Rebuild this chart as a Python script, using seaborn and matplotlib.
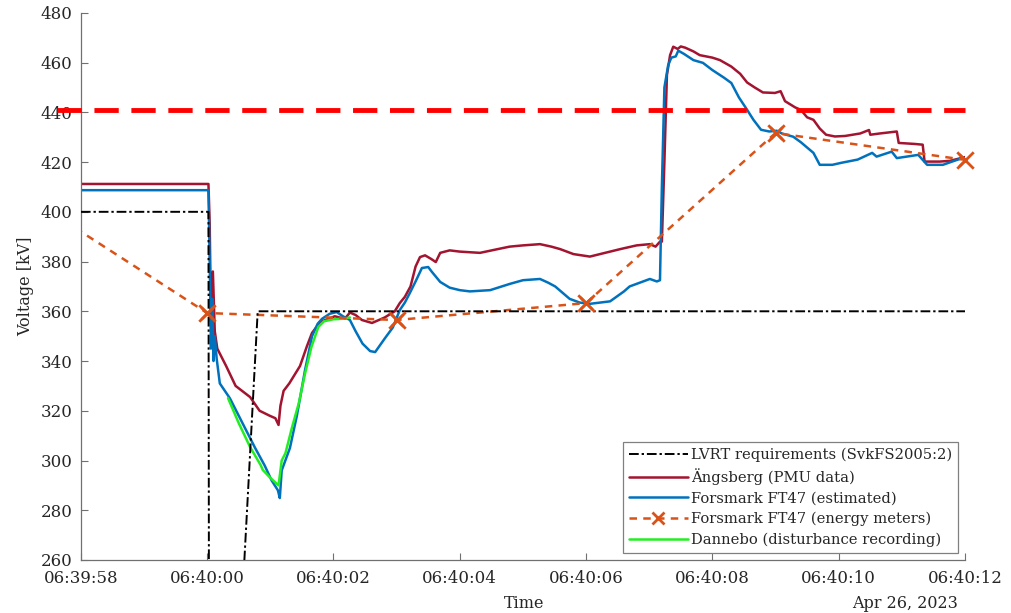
import matplotlib
matplotlib.use("Agg")
import matplotlib.pyplot as plt
import seaborn as sns

# time axis: seconds after 06:39:58 (Apr 26, 2023)
tick_sec = [0, 2, 4, 6, 8, 10, 12, 14]
tick_labels = ["06:39:58", "06:40:00", "06:40:02", "06:40:04",
               "06:40:06", "06:40:08", "06:40:10", "06:40:12"]
y_ticks = list(range(260, 481, 20))

limit_kv = 441  # red dashed limit

lvrt_t = [0, 2.02, 2.04, 2.8, 14]
lvrt_kv = [400, 400, 0, 360, 360]

angs_t = [0, 2.02, 2.04, 2.06, 2.09, 2.12, 2.16, 2.3, 2.45, 2.68, 2.83, 2.99,
          3.08, 3.13, 3.16, 3.21, 3.3, 3.47, 3.58, 3.66, 3.79, 3.92, 4.02, 4.18,
          4.26, 4.35, 4.45, 4.61, 4.81, 4.97, 5.05, 5.13, 5.22, 5.3, 5.37, 5.45,
          5.55, 5.62, 5.69, 5.84, 6.0, 6.32, 6.6, 6.79, 7.0, 7.27, 7.45, 7.59,
          7.8, 8.06, 8.3, 8.54, 8.8, 9.01, 9.1, 9.17, 9.2, 9.24, 9.28, 9.33,
          9.38, 9.45, 9.5, 9.57, 9.7, 9.8, 10.0, 10.12, 10.3, 10.44, 10.55,
          10.67, 10.8, 10.99, 11.08, 11.15, 11.31, 11.4, 11.5, 11.6, 11.7, 11.8,
          11.94, 12.1, 12.34, 12.48, 12.5, 12.65, 12.92, 12.95, 13.2, 13.33,
          13.36, 13.6, 13.76, 14.0]
angs_kv = [411.2, 411.2, 395, 356, 376, 352, 345, 338, 330, 325.5, 320, 318,
           317, 314.3, 322, 328, 331, 338, 346, 351.3, 355.7, 357, 358, 357,
           359.5, 358.5, 356.5, 355.3, 357.5, 360, 363.3, 365.8, 370, 378, 381.8,
           382.5, 381, 379.8, 383.5, 384.5, 384, 383.5, 385, 386, 386.5, 387,
           386, 385, 383, 382, 383.5, 385, 386.5, 387, 386, 388, 388, 420, 455,
           463, 466.4, 465.5, 466.5, 466, 464.5, 463, 462, 461, 458.4, 455.5,
           452, 450, 448, 447.8, 448.5, 444.5, 442, 441, 438, 437, 433.5, 431,
           430.3, 430.5, 431.5, 432.9, 431, 431.5, 432.3, 427.7, 427.3, 427,
           420.2, 420.2, 420.5, 422]

fors_t = [0, 2.02, 2.04, 2.06, 2.08, 2.1, 2.12, 2.15, 2.2, 2.36, 2.5, 2.6,
          2.76, 2.91, 3.02, 3.12, 3.15, 3.18, 3.31, 3.42, 3.55, 3.66, 3.75,
          3.82, 3.94, 4.05, 4.15, 4.26, 4.35, 4.46, 4.58, 4.66, 4.81, 4.94,
          5.05, 5.13, 5.21, 5.3, 5.4, 5.5, 5.56, 5.69, 5.84, 6.0, 6.16, 6.48,
          6.79, 7.0, 7.27, 7.4, 7.51, 7.74, 7.9, 8.06, 8.38, 8.6, 8.69, 9.01,
          9.12, 9.17, 9.2, 9.24, 9.3, 9.35, 9.42, 9.46, 9.55, 9.7, 9.85, 10.0,
          10.18, 10.3, 10.42, 10.55, 10.65, 10.77, 10.9, 11.02, 11.1, 11.28,
          11.4, 11.6, 11.7, 11.9, 12.04, 12.3, 12.53, 12.6, 12.84, 12.92,
          13.26, 13.4, 13.65, 13.92, 14.0]
fors_kv = [408.7, 408.7, 380, 345, 365, 340, 350, 341, 331, 325, 318, 313,
           305, 298, 292, 288, 284.9, 296, 305, 318, 336.4, 350, 355, 357, 359,
           359.7, 358, 356.5, 352, 347, 344, 343.6, 349, 353.5, 360.5, 363.5,
           367.4, 372, 377.4, 377.8, 375.8, 371.8, 369.5, 368.5, 368, 368.5,
           371, 372.5, 373, 371.5, 370, 365, 363.5, 363, 364, 368, 370, 373,
           372, 372.5, 410, 450, 459, 462, 462.5, 464.8, 463.5, 461, 459.9,
           457, 454, 451.8, 446, 441, 437, 433, 432.3, 432.6, 431.5, 430.2,
           428, 423.7, 418.9, 418.9, 419.7, 421, 423.7, 422.2, 424.2, 421.6,
           422.9, 418.9, 418.9, 421.3, 421.5]

meter_t = [-1, 2, 5, 8, 11, 14]
meter_kv = [408.4, 359.3, 356.5, 363.3, 431.7, 420.9]

dann_t = [2.33, 2.5, 2.68, 2.85, 2.88, 3.0, 3.13, 3.18, 3.24, 3.34, 3.45,
          3.55, 3.65, 3.76, 3.85, 4.0, 4.15, 4.26]
dann_kv = [325.1, 315, 305.4, 298, 296.2, 293, 290, 300, 303, 313, 323, 335,
           345.6, 353.7, 356, 356.8, 357, 357.5]

sns.set_style("ticks")
plt.rcParams['font.family'] = ['DejaVu Serif']
plt.rcParams['xtick.direction'] = 'in'
plt.rcParams['ytick.direction'] = 'in'

fig, ax = plt.subplots(figsize=(10.11, 6.13), dpi=100)
fig.subplots_adjust(left=0.080, right=0.9545, bottom=0.0865, top=0.979)

sns.lineplot(x=lvrt_t, y=lvrt_kv, ax=ax, sort=False, estimator=None,
             color='black', lw=1.4, linestyle=(0, (5, 1.5, 1.2, 1.5)),
             label='LVRT requirements (SvkFS2005:2)', zorder=4)
sns.lineplot(x=angs_t, y=angs_kv, ax=ax, sort=False, estimator=None,
             color='#A2142F', lw=1.8, label='Ängsberg (PMU data)')
sns.lineplot(x=fors_t, y=fors_kv, ax=ax, sort=False, estimator=None,
             color='#0072BD', lw=1.8, label='Forsmark FT47 (estimated)')
sns.lineplot(x=meter_t, y=meter_kv, ax=ax, sort=False, estimator=None,
             color='#D95319', lw=1.8, linestyle=(0, (3, 2.5)), marker='x',
             markersize=9, markeredgewidth=2, markeredgecolor='#D95319',
             label='Forsmark FT47 (energy meters)', zorder=3)
# meter markers drawn again unclipped so the last one sits over the axis edge
shown = [i for i, t in enumerate(meter_t) if t >= tick_sec[0]]
sns.scatterplot(x=[meter_t[i] for i in shown], y=[meter_kv[i] for i in shown],
                ax=ax, marker='x', s=140, linewidth=2, color='#D95319',
                clip_on=False, zorder=6, legend=False)
sns.lineplot(x=dann_t, y=dann_kv, ax=ax, sort=False, estimator=None,
             color='#22EE22', lw=1.8, label='Dannebo (disturbance recording)')

ax.axhline(limit_kv, xmin=-0.027, xmax=1.0, color='#FF0000', lw=3.5,
           linestyle=(0, (5, 2.6)), clip_on=False, zorder=5)

ax.set_xlim(tick_sec[0], tick_sec[-1])
ax.set_ylim(y_ticks[0], y_ticks[-1])
ax.set_xticks(tick_sec)
ax.set_xticklabels(tick_labels)
ax.set_yticks(y_ticks)
ax.tick_params(axis='both', labelsize=12, colors='#707070', labelcolor='#262626',
               length=5, width=0.8)
ax.tick_params(axis='x', pad=7)
ax.tick_params(axis='y', pad=6)
sns.despine(ax=ax)
for side in ['left', 'bottom']:
    ax.spines[side].set_color('#707070')
    ax.spines[side].set_linewidth(0.9)

ax.set_ylabel('Voltage [kV]', fontsize=11.5, color='#262626', labelpad=5)
ax.set_xlabel('')
fig.text(0.518, 0.016, 'Time', ha='center', va='center', fontsize=11.5,
         color='#262626')
fig.text(0.9476, 0.016, 'Apr 26, 2023', ha='right', va='center', fontsize=11.5,
         color='#262626')

leg = ax.legend(loc='lower right', fontsize=10.6, frameon=True, fancybox=False,
                handlelength=4.0, handletextpad=0.2, borderpad=0.4,
                labelspacing=0.42, borderaxespad=0.5, framealpha=1)
leg.get_frame().set_edgecolor('#808080')
leg.get_frame().set_linewidth(0.9)

fig.savefig('out.png', dpi=100)
